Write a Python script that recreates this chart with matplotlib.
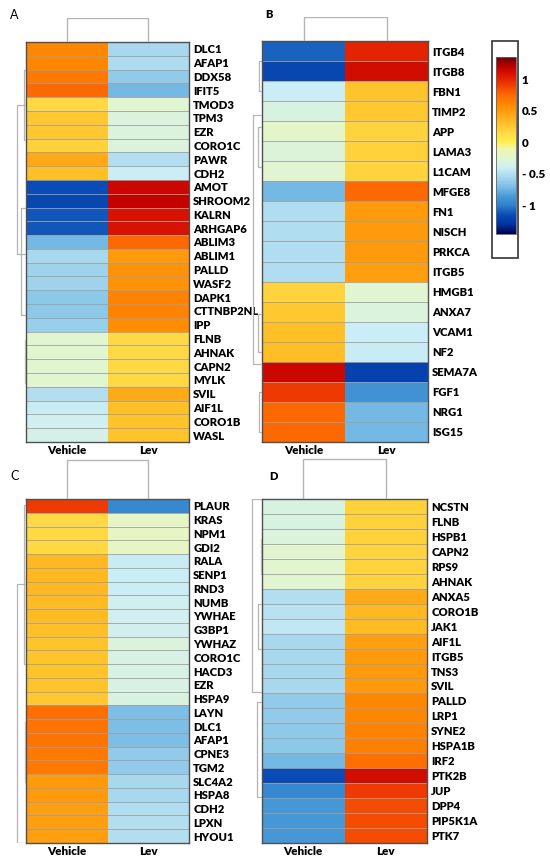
import numpy as np
import matplotlib
matplotlib.use("Agg")
import matplotlib.pyplot as plt
from matplotlib.colors import LinearSegmentedColormap, Normalize
from matplotlib.patches import Rectangle

plt.rcParams['font.family'] = ['Lato', 'DejaVu Sans']

# ---- data (z-scores) ----
genes_a = ['DLC1', 'AFAP1', 'DDX58', 'IFIT5', 'TMOD3', 'TPM3', 'EZR', 'CORO1C', 'PAWR', 'CDH2',
           'AMOT', 'SHROOM2', 'KALRN', 'ARHGAP6', 'ABLIM3', 'ABLIM1', 'PALLD', 'WASF2', 'DAPK1',
           'CTTNBP2NL', 'IPP', 'FLNB', 'AHNAK', 'CAPN2', 'MYLK', 'SVIL', 'AIF1L', 'CORO1B', 'WASL']
vehicle_a = [0.60, 0.60, 0.68, 0.75, 0.15, 0.25, 0.25, 0.20, 0.43, 0.30,
             -1.15, -1.18, -1.12, -1.12, -0.72, -0.55, -0.58, -0.58, -0.65,
             -0.65, -0.60, -0.25, -0.25, -0.25, -0.25, -0.50, -0.42, -0.38, -0.35]
lev_a = [-0.55, -0.53, -0.62, -0.72, -0.25, -0.30, -0.30, -0.30, -0.50, -0.40,
         1.15, 1.18, 1.08, 1.08, 0.75, 0.50, 0.55, 0.55, 0.62,
         0.62, 0.58, 0.15, 0.15, 0.15, 0.15, 0.42, 0.30, 0.28, 0.28]

genes_b = ['ITGB4', 'ITGB8', 'FBN1', 'TIMP2', 'APP', 'LAMA3', 'L1CAM', 'MFGE8', 'FN1', 'NISCH',
           'PRKCA', 'ITGB5', 'HMGB1', 'ANXA7', 'VCAM1', 'NF2', 'SEMA7A', 'FGF1', 'NRG1', 'ISG15']
vehicle_b = [-1.08, -1.18, -0.40, -0.32, -0.22, -0.28, -0.25, -0.72, -0.52, -0.52,
             -0.52, -0.52, 0.18, 0.25, 0.30, 0.32, 1.15, 0.92, 0.75, 0.75]
lev_b = [1.00, 1.12, 0.28, 0.25, 0.18, 0.20, 0.18, 0.75, 0.50, 0.50,
         0.50, 0.48, -0.25, -0.30, -0.40, -0.42, -1.20, -0.90, -0.72, -0.72]

genes_c = ['PLAUR', 'KRAS', 'NPM1', 'GDI2', 'RALA', 'SENP1', 'RND3', 'NUMB', 'YWHAE', 'G3BP1',
           'YWHAZ', 'CORO1C', 'HACD3', 'EZR', 'HSPA9', 'LAYN', 'DLC1', 'AFAP1', 'CPNE3', 'TGM2',
           'SLC4A2', 'HSPA8', 'CDH2', 'LPXN', 'HYOU1']
vehicle_c = [0.92, 0.15, 0.15, 0.15, 0.35, 0.35, 0.35, 0.33, 0.33, 0.30,
             0.28, 0.28, 0.28, 0.27, 0.25, 0.72, 0.70, 0.70, 0.68, 0.68,
             0.50, 0.50, 0.48, 0.48, 0.48]
lev_c = [-0.95, -0.20, -0.20, -0.20, -0.42, -0.40, -0.40, -0.38, -0.38, -0.37,
         -0.30, -0.33, -0.33, -0.33, -0.32, -0.70, -0.70, -0.70, -0.62, -0.62,
         -0.55, -0.55, -0.52, -0.50, -0.50]

genes_d = ['NCSTN', 'FLNB', 'HSPB1', 'CAPN2', 'RPS9', 'AHNAK', 'ANXA5', 'CORO1B', 'JAK1', 'AIF1L',
           'ITGB5', 'TNS3', 'SVIL', 'PALLD', 'LRP1', 'SYNE2', 'HSPA1B', 'IRF2', 'PTK2B', 'JUP',
           'DPP4', 'PIP5K1A', 'PTK7']
vehicle_d = [-0.32, -0.32, -0.30, -0.25, -0.25, -0.25, -0.50, -0.48, -0.45, -0.55,
             -0.55, -0.55, -0.55, -0.62, -0.62, -0.64, -0.65, -0.72, -1.15, -0.95,
             -0.88, -0.88, -0.88]
lev_d = [0.20, 0.20, 0.20, 0.18, 0.18, 0.18, 0.42, 0.35, 0.33, 0.48,
         0.50, 0.50, 0.50, 0.60, 0.60, 0.62, 0.64, 0.72, 1.12, 0.92,
         0.85, 0.85, 0.85]

groups = ['Vehicle', 'Lev']

# row dendrogram brackets: (first row, last row, depth 0..1)
rows_tree_a = [(4.6, 15.4, 0.75), (2.0, 7.1, 0.15), (12.0, 19.8, 0.4), (21.6, 24.7, 0.1)]
rows_tree_b = [(3.7, 16.1, 0.65), (1.0, 2.5, 0.2), (4.3, 6.3, 0.3), (13.6, 15.5, 0.3), (17.5, 19.5, 0.2)]
rows_tree_c = [(6.2, 25.0, 0.75), (0.4, 12.0, 0.17), (16.2, 20.6, 0.05)]
rows_tree_d = [(0.0, 12.9, 0.8), (13.6, 19.9, 0.4), (2.7, 5.0, 0.08), (7.0, 10.0, 0.3)]

# colour scale
cb_ticks = [1, 0.5, 0, -0.5, -1]
cb_labels = ['1', '0.5', '0', '- 0.5', '- 1']
vmin, vmax = -1.45, 1.35
nodes = [(-1.45, '#00004a'), (-1.3, '#0033a0'), (-1.15, '#0a4cb5'), (-1.0, '#2e80cc'),
         (-0.85, '#4a9cd8'), (-0.7, '#7dbfe5'), (-0.55, '#a8d8ee'), (-0.4, '#cdeef5'),
         (-0.25, '#e2f5d0'), (-0.1, '#f0f5b0'), (0.0, '#fff050'), (0.15, '#ffd944'),
         (0.3, '#ffc028'), (0.45, '#ffa515'), (0.6, '#ff8800'), (0.75, '#ff6a00'),
         (0.9, '#f04000'), (1.05, '#e01800'), (1.2, '#c00000'), (1.35, '#6a0000')]
cmap = LinearSegmentedColormap.from_list(
    'zs', [((v - vmin) / (vmax - vmin), c) for v, c in nodes])
norm = Normalize(vmin, vmax)

W, H = 550, 860
fig = plt.figure(figsize=(W / 100, H / 100), dpi=100)


def px_axes(x0, y0, x1, y1):
    return fig.add_axes([x0 / W, 1 - y1 / H, (x1 - x0) / W, (y1 - y0) / H])


def draw_heatmap(box, genes, veh, lev):
    ax = px_axes(*box)
    data = np.column_stack([veh, lev])
    n = len(genes)
    ax.pcolormesh(data, cmap=cmap, norm=norm)
    ax.set_xlim(0, 2)
    ax.set_ylim(n, 0)
    for i in range(1, n):
        ax.axhline(i, color='#a0a0a0', lw=0.6)
    ax.yaxis.tick_right()
    ax.set_yticks(np.arange(n) + 0.5)
    ax.set_yticklabels(genes, fontsize=8.1, fontweight='heavy')
    ax.set_xticks([0.5, 1.5])
    ax.set_xticklabels(groups, fontsize=8.4, fontweight='heavy')
    ax.tick_params(length=0, pad=2)
    ax.tick_params(axis='y', pad=3)
    for s in ax.spines.values():
        s.set_color('#505050')
        s.set_linewidth(1.0)
    return ax


def draw_col_tree(box):
    ax = px_axes(*box)
    ax.plot([0.5, 0.5, 1.5, 1.5], [0, 1, 1, 0], color='#b4b4b4', lw=1)
    ax.set_xlim(0, 2)
    ax.set_ylim(0, 1.02)
    ax.axis('off')


def draw_row_tree(box, n, tree):
    ax = px_axes(*box)
    for r0, r1, d in tree:
        ax.plot([0, -d, -d, 0], [r0, r0, r1, r1], color='#b4b4b4', lw=0.9)
    ax.set_xlim(-1, 0)
    ax.set_ylim(n, 0)
    ax.axis('off')


# panel A
draw_heatmap((26, 42, 189, 442), genes_a, vehicle_a, lev_a)
draw_col_tree((26, 18, 189, 42))
draw_row_tree((14, 42, 26, 442), len(genes_a), rows_tree_a)
fig.text(10 / W, 1 - 15 / H, 'A', fontsize=9, va='center')

# panel B
draw_heatmap((262, 41, 428, 442), genes_b, vehicle_b, lev_b)
draw_col_tree((262, 17, 428, 41))
draw_row_tree((248, 41, 262, 442), len(genes_b), rows_tree_b)
fig.text(265 / W, 1 - 15 / H, 'B', fontsize=8, fontweight='heavy', va='center')

# panel C
draw_heatmap((26, 499, 189, 843), genes_c, vehicle_c, lev_c)
draw_col_tree((26, 459, 189, 499))
draw_row_tree((14, 499, 26, 843), len(genes_c), rows_tree_c)
fig.text(10 / W, 1 - 476 / H, 'C', fontsize=9, va='center')

# panel D
draw_heatmap((262, 499, 427, 843), genes_d, vehicle_d, lev_d)
draw_col_tree((262, 458, 427, 499))
draw_row_tree((250, 499, 262, 843), len(genes_d), rows_tree_d)
fig.text(269 / W, 1 - 476 / H, 'D', fontsize=8, fontweight='heavy', va='center')

# colour bar with its frame
fig.patches.append(Rectangle((492 / W, 1 - 258 / H), 26 / W, 217 / H, transform=fig.transFigure,
                             fill=False, edgecolor='#333333', lw=1.2))
cax = px_axes(496, 57, 516, 234)
sm = plt.cm.ScalarMappable(cmap=cmap, norm=norm)
cb = fig.colorbar(sm, cax=cax, ticks=cb_ticks)
cb.set_ticklabels(cb_labels)
cb.ax.tick_params(length=0, pad=4, labelsize=8.4)
for t in cb.ax.get_yticklabels():
    t.set_fontweight('heavy')
cb.outline.set_edgecolor('#666666')
cb.outline.set_linewidth(0.6)

fig.savefig('out.png', dpi=100)
